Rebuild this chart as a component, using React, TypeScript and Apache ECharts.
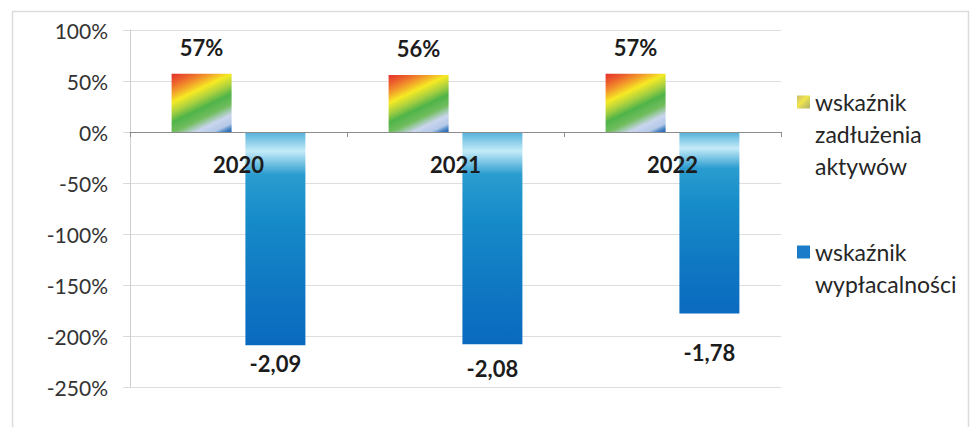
import React, { useEffect, useRef } from "react";
import * as echarts from "echarts";

// Categories and series values (ratios; 1 = 100%)
const years = ["2020", "2021", "2022"];
const debtRatio = [0.57, 0.56, 0.57];
const solvencyRatio = [-2.09, -2.08, -1.78];

// Value axis range and step
const axisMin = -2.5;
const axisMax = 1;
const axisStep = 0.5;

const debtName = "wskaźnik\nzadłużenia\naktywów";
const solvencyName = "wskaźnik\nwypłacalności";

// Distance of each solvency label below its bar
const solvencyLabelGap = [7, 13, 28];

const FONT = "Lato, 'Open Sans', 'DejaVu Sans', sans-serif";

const W = 973;
const H = 427;
const GRID = { left: 130, right: 192, top: 30, bottom: 40 };

const rainbow = new echarts.graphic.LinearGradient(0, 0, 0.6, 1.2, [
  { offset: 0, color: "#e42f2c" },
  { offset: 0.12, color: "#ec642c" },
  { offset: 0.22, color: "#f39e2b" },
  { offset: 0.33, color: "#f6ea24" },
  { offset: 0.45, color: "#a9d03f" },
  { offset: 0.56, color: "#4fb449" },
  { offset: 0.68, color: "#71bd5e" },
  { offset: 0.8, color: "#cad5ee" },
  { offset: 0.9, color: "#b3c8e7" },
  { offset: 0.95, color: "#4c87c6" },
  { offset: 1, color: "#2160ad" },
]);

const blueFade = new echarts.graphic.LinearGradient(0, 0, 0, 1, [
  { offset: 0, color: "#52b0d9" },
  { offset: 0.09, color: "#c4ebf8" },
  { offset: 0.2, color: "#2a9ccf" },
  { offset: 0.4, color: "#168cc9" },
  { offset: 0.7, color: "#1079c3" },
  { offset: 1, color: "#0a6abf" },
]);

const oliveIcon = new echarts.graphic.LinearGradient(0, 0, 1, 1, [
  { offset: 0, color: "#c9be6b" },
  { offset: 0.45, color: "#f2e64a" },
  { offset: 0.6, color: "#d8d25c" },
  { offset: 1, color: "#b5b463" },
]);

const pct = (v: number) => `${Math.round(v * 100)}%`;
const comma = (v: number) => v.toFixed(2).replace(".", ",");

// Pad a multi-line legend name with blank lines above so that its first
// line sits level with the legend marker.
const firstLineOnIcon = (name: string) => {
  const lines = name.split("\n").length;
  return "\n".repeat(lines - 1) + name;
};

export default function App() {
  const ref = useRef<HTMLDivElement>(null);

  useEffect(() => {
    if (!ref.current) return;
    const chart = echarts.init(ref.current, null, { renderer: "svg" });

    // Pixel offset of the zero line above the bottom of the plot area
    const plotH = H - GRID.top - GRID.bottom;
    const zeroFromBottom = (plotH * (0 - axisMin)) / (axisMax - axisMin);

    const legendBase = {
      orient: "vertical",
      left: 797,
      padding: 0,
      itemWidth: 13,
      itemHeight: 13,
      icon: "rect",
      selectedMode: false,
      formatter: firstLineOnIcon,
      textStyle: {
        fontFamily: FONT,
        fontSize: 23,
        lineHeight: 32,
        color: "#262626",
      },
    };

    const boldLabel = {
      fontSize: 22,
      fontWeight: "bold",
      color: "#1c1c1c",
      fontFamily: FONT,
    };

    chart.setOption({
      animation: false,
      backgroundColor: "#ffffff",
      textStyle: { fontFamily: FONT },
      grid: { ...GRID, containLabel: false },
      graphic: [
        {
          type: "rect",
          left: 10,
          top: 9,
          shape: { width: 956, height: 440 },
          style: { fill: "none", stroke: "#dcdcdc", lineWidth: 1.5 },
          silent: true,
        },
      ],
      legend: [
        {
          ...legendBase,
          top: 22,
          data: [{ name: debtName, itemStyle: { color: oliveIcon } }],
        },
        {
          ...legendBase,
          top: 204,
          data: [{ name: solvencyName, itemStyle: { color: "#1b7cc9" } }],
        },
      ],
      xAxis: {
        type: "category",
        data: years,
        z: 10,
        position: "bottom",
        offset: -zeroFromBottom,
        axisLine: { onZero: false, lineStyle: { color: "#8c8c8c", width: 1 } },
        axisTick: { show: true, length: 5, lineStyle: { color: "#8c8c8c" } },
        axisLabel: { margin: 21, ...boldLabel },
      },
      yAxis: {
        type: "value",
        min: axisMin,
        max: axisMax,
        interval: axisStep,
        axisLine: { show: true, lineStyle: { color: "#cfcfcf" } },
        axisTick: { show: true, length: 7, lineStyle: { color: "#dadada" } },
        splitLine: { show: true, lineStyle: { color: "#dedede", width: 1 } },
        axisLabel: {
          margin: 22,
          fontSize: 21,
          color: "#333333",
          fontFamily: FONT,
          formatter: pct,
        },
      },
      series: [
        {
          name: debtName,
          type: "bar",
          barWidth: 60,
          barGap: "23%",
          data: debtRatio,
          itemStyle: { color: rainbow },
          label: {
            show: true,
            position: "outside",
            distance: 15,
            ...boldLabel,
            formatter: (p: any) => pct(p.value),
          },
        },
        {
          name: solvencyName,
          type: "bar",
          barWidth: 60,
          data: solvencyRatio.map((v, i) => ({
            value: v,
            label: { distance: solvencyLabelGap[i] },
          })),
          itemStyle: { color: blueFade },
          label: {
            show: true,
            position: "outside",
            ...boldLabel,
            formatter: (p: any) => comma(p.value),
          },
        },
      ],
    });

    return () => chart.dispose();
  }, []);

  return (
    <div
      ref={ref}
      style={{ position: "fixed", left: 0, top: 0, width: W, height: H }}
    />
  );
}
